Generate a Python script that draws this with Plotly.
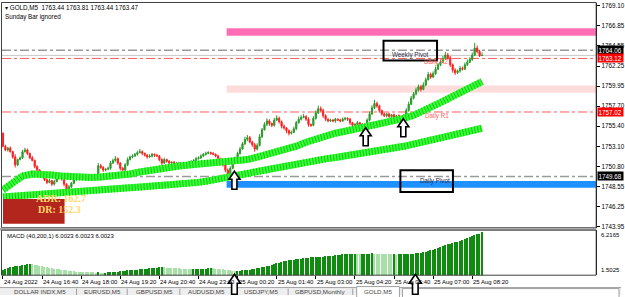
import plotly.graph_objects as go

W, H = 625, 297

# ---------------- data ----------------
first_open = 1754.60
closes = [
    1753.1, 1752.7, 1752.9, 1752.5, 1751.9, 1751.0, 1751.6, 1751.8, 1752.5, 1752.7,
    1752.3, 1751.8, 1751.5, 1750.8, 1750.4, 1749.9, 1749.6, 1749.3, 1749.0, 1749.2,
    1748.8, 1749.1, 1749.5, 1749.7, 1749.4, 1748.8, 1748.2, 1748.5, 1748.9, 1749.3,
    1749.5, 1749.7, 1749.5, 1749.6, 1749.4, 1749.6, 1749.5, 1749.7, 1749.6, 1750.9,
    1750.7, 1750.4, 1750.5, 1750.6, 1751.2, 1751.5, 1751.7, 1751.2, 1750.6, 1750.4,
    1751.0, 1751.6, 1751.9, 1752.0, 1752.2, 1752.4, 1752.5, 1752.3, 1752.1, 1751.9,
    1752.0, 1752.2, 1752.1, 1752.0, 1751.6, 1751.2, 1751.6, 1751.4, 1751.2, 1751.3,
    1751.1, 1751.2, 1751.1, 1751.0, 1751.2, 1751.1, 1751.3, 1751.4, 1751.5, 1751.7,
    1751.8, 1752.0, 1752.2, 1752.3, 1752.4, 1752.3, 1752.2, 1752.0, 1751.7, 1751.4,
    1751.0, 1750.4, 1749.9, 1750.6, 1751.3, 1751.8, 1752.3, 1752.8, 1753.4, 1753.9,
    1754.1, 1753.6, 1753.3, 1752.8, 1753.2, 1754.2, 1755.0, 1755.6, 1756.0, 1755.7,
    1755.5, 1756.1, 1756.3, 1755.9, 1755.4, 1755.2, 1754.9, 1754.6, 1754.7, 1755.1,
    1755.8, 1756.2, 1756.4, 1756.5, 1756.2, 1755.6, 1755.5, 1756.3, 1756.9, 1757.4,
    1757.2, 1756.6, 1756.2, 1756.0, 1756.1, 1756.0, 1756.2, 1756.1, 1756.0, 1756.2,
    1756.3, 1756.2, 1755.8, 1755.5, 1755.6, 1755.8, 1755.6, 1755.5, 1755.3, 1756.1,
    1756.8, 1757.5, 1758.0, 1757.7, 1757.2, 1756.8, 1756.6, 1756.8, 1756.5, 1756.7,
    1756.4, 1756.6, 1756.5, 1756.3, 1756.6, 1757.2, 1757.9, 1758.6, 1759.1, 1759.5,
    1759.9, 1759.6, 1760.1, 1760.7, 1761.3, 1761.0, 1761.4, 1761.9, 1762.4, 1762.7,
    1763.1, 1763.5, 1763.2, 1762.4, 1761.8, 1761.5, 1761.7, 1762.0, 1761.9, 1762.4,
    1762.7, 1763.0, 1763.5, 1764.3, 1763.9, 1763.44, 1763.47,
]
upper_wick = [
    0.1, 0.2, 0.15, 0.2, 0.1, 0.3, 0.1, 0.15, 0.2, 0.25,
    0.15, 0.1, 0.2, 0.1, 0.15, 0.1, 0.2, 0.1, 0.15, 0.2,
    0.1, 0.2, 0.15, 0.2, 0.1, 0.15, 0.1, 0.2, 0.15, 0.2,
    0.15, 0.2, 0.1, 0.15, 0.2, 0.1, 0.15, 0.2, 0.1, 0.3,
    0.2, 0.15, 0.1, 0.2, 0.25, 0.2, 0.3, 0.15, 0.1, 0.15,
    0.2, 0.25, 0.15, 0.2, 0.15, 0.2, 0.3, 0.15, 0.1, 0.15,
    0.2, 0.15, 0.1, 0.15, 0.1, 0.15, 0.2, 0.1, 0.15, 0.1,
    0.15, 0.1, 0.15, 0.1, 0.15, 0.1, 0.15, 0.1, 0.15, 0.2,
    0.15, 0.2, 0.15, 0.2, 0.15, 0.1, 0.15, 0.1, 0.15, 0.1,
    0.15, 0.2, 0.2, 0.25, 0.2, 0.15, 0.2, 0.25, 0.2, 0.3,
    0.3, 0.2, 0.15, 0.2, 0.25, 0.3, 0.2, 0.25, 0.3, 0.2,
    0.15, 0.25, 0.35, 0.2, 0.15, 0.2, 0.1, 0.15, 0.2, 0.25,
    0.2, 0.3, 0.25, 0.3, 0.15, 0.2, 0.1, 0.25, 0.3, 0.35,
    0.25, 0.2, 0.15, 0.1, 0.15, 0.1, 0.15, 0.1, 0.15, 0.2,
    0.15, 0.1, 0.15, 0.1, 0.15, 0.2, 0.1, 0.15, 0.1, 0.2,
    0.25, 0.3, 0.4, 0.2, 0.15, 0.1, 0.15, 0.1, 0.15, 0.1,
    0.15, 0.1, 0.15, 0.1, 0.2, 0.25, 0.3, 0.25, 0.2, 0.3,
    0.25, 0.2, 0.3, 0.25, 0.3, 0.2, 0.25, 0.3, 0.2, 0.25,
    0.3, 0.35, 0.25, 0.2, 0.15, 0.2, 0.15, 0.25, 0.2, 0.25,
    0.3, 0.25, 0.3, 0.6, 0.3, 0.2, 0.34,
]
lower_wick = [
    0.1, 0.15, 0.2, 0.1, 0.2, 0.3, 0.15, 0.1, 0.15, 0.1,
    0.2, 0.15, 0.1, 0.2, 0.15, 0.2, 0.1, 0.15, 0.2, 0.1,
    0.2, 0.15, 0.1, 0.15, 0.2, 0.25, 0.2, 0.1, 0.15, 0.1,
    0.1, 0.15, 0.2, 0.1, 0.15, 0.2, 0.1, 0.15, 0.2, 0.1,
    0.15, 0.2, 0.15, 0.1, 0.15, 0.1, 0.15, 0.2, 0.25, 0.15,
    0.1, 0.15, 0.1, 0.15, 0.1, 0.15, 0.1, 0.2, 0.15, 0.2,
    0.1, 0.15, 0.2, 0.1, 0.2, 0.25, 0.1, 0.15, 0.2, 0.1,
    0.15, 0.2, 0.1, 0.15, 0.1, 0.2, 0.1, 0.15, 0.1, 0.15,
    0.1, 0.15, 0.1, 0.15, 0.1, 0.15, 0.1, 0.15, 0.2, 0.15,
    0.2, 0.25, 0.3, 0.15, 0.1, 0.15, 0.1, 0.15, 0.1, 0.15,
    0.2, 0.15, 0.25, 0.3, 0.15, 0.1, 0.15, 0.1, 0.2, 0.25,
    0.2, 0.15, 0.1, 0.2, 0.25, 0.2, 0.3, 0.25, 0.15, 0.1,
    0.15, 0.1, 0.15, 0.1, 0.2, 0.25, 0.2, 0.1, 0.15, 0.1,
    0.15, 0.25, 0.2, 0.15, 0.1, 0.15, 0.2, 0.1, 0.15, 0.1,
    0.15, 0.2, 0.25, 0.2, 0.15, 0.1, 0.2, 0.15, 0.25, 0.1,
    0.15, 0.1, 0.15, 0.2, 0.25, 0.2, 0.15, 0.2, 0.15, 0.2,
    0.15, 0.2, 0.15, 0.2, 0.15, 0.1, 0.15, 0.1, 0.15, 0.2,
    0.15, 0.25, 0.1, 0.15, 0.1, 0.2, 0.1, 0.15, 0.1, 0.15,
    0.1, 0.15, 0.2, 0.25, 0.3, 0.25, 0.15, 0.2, 0.15, 0.1,
    0.15, 0.1, 0.15, 0.1, 0.2, 0.15, 0.0,
]

# moving averages read every 4th bar
ma_bars = list(range(0, 197, 4))
ma_fast = [
    1748.15, 1749.05, 1749.73, 1749.96, 1749.96, 1749.85, 1749.73, 1749.62, 1749.51, 1749.56,
    1749.62, 1749.68, 1749.85, 1749.96, 1750.19, 1750.41, 1750.58, 1750.75, 1750.87, 1750.98,
    1751.09, 1751.15, 1751.21, 1751.26, 1751.43, 1751.60, 1751.89, 1752.17, 1752.57, 1752.79,
    1753.13, 1753.58, 1753.98, 1754.32, 1754.60, 1754.83, 1755.06, 1755.28, 1755.51, 1755.79,
    1756.02, 1756.30, 1756.64, 1757.10, 1757.66, 1758.23, 1758.79, 1759.36, 1759.93, 1760.49,
]
ma_slow = [
    1747.35, 1747.42, 1747.48, 1747.53, 1747.58, 1747.64, 1747.71, 1747.79, 1747.87, 1747.98,
    1748.09, 1748.21, 1748.28, 1748.38, 1748.47, 1748.55, 1748.62, 1748.71, 1748.83, 1748.91,
    1749.00, 1749.17, 1749.34, 1749.59, 1749.79, 1750.02, 1750.24, 1750.47, 1750.70, 1750.92,
    1751.15, 1751.34, 1751.52, 1751.68, 1751.84, 1752.00, 1752.17, 1752.34, 1752.51, 1752.68,
    1752.85, 1753.11, 1753.36, 1753.62, 1753.88, 1754.14, 1754.40, 1754.66, 1754.92, 1755.17,
]

macd = [
    2.02, 2.14, 2.26, 2.32, 2.38, 2.44, 2.47, 2.50, 2.54, 2.57, 2.64, 2.71,
    2.66, 2.60, 2.54, 2.48, 2.42, 2.36, 2.31, 2.26, 2.21, 2.16, 2.12,
    2.09, 2.06, 2.02, 1.99, 1.96, 1.93, 1.90, 1.87, 1.85, 1.83, 1.82, 1.80, 1.79, 1.78,
    1.77, 1.76, 1.78, 1.76, 1.75, 1.76, 1.78, 1.79, 1.80, 1.82, 1.86, 1.91,
    1.94, 1.97, 2.00, 2.02, 2.04, 2.06, 2.08, 2.10, 2.12,
    2.15, 2.18, 2.20, 2.23, 2.26, 2.28, 2.31, 2.33,
    2.31, 2.29, 2.27, 2.25, 2.23, 2.21, 2.19, 2.17, 2.14, 2.12,
    2.11, 2.10, 2.11, 2.12, 2.12, 2.14, 2.16, 2.18, 2.19, 2.20,
    2.19, 2.18, 2.17, 2.15, 2.12, 2.08, 2.03, 1.99, 1.96, 1.95,
    1.96, 1.97, 1.99, 2.00, 2.02, 2.06, 2.10, 2.15, 2.20,
    2.25, 2.31, 2.36, 2.42, 2.47, 2.55, 2.63, 2.72, 2.80, 2.88,
    2.93, 2.98, 3.03, 3.08, 3.12, 3.16, 3.20, 3.23, 3.27, 3.30,
    3.32, 3.34, 3.36, 3.38, 3.40, 3.41, 3.43, 3.45, 3.47, 3.49,
    3.52, 3.56, 3.60, 3.64, 3.67, 3.69, 3.71, 3.72, 3.73,
    3.74, 3.73, 3.72, 3.72, 3.73, 3.74, 3.75, 3.76, 3.75, 3.73,
    3.71, 3.70, 3.69, 3.68, 3.67, 3.66, 3.66, 3.65, 3.66, 3.67,
    3.68, 3.70, 3.71, 3.72, 3.73, 3.76, 3.80, 3.85, 3.90, 3.95,
    4.02, 4.08, 4.15, 4.23, 4.32, 4.40, 4.50, 4.60, 4.70, 4.78,
    4.86, 4.93, 5.00, 5.10, 5.20, 5.30, 5.40, 5.50, 5.60, 5.69, 5.77, 5.85, 6.0023,
]

price_ticks = [1769.10, 1766.85, 1764.55, 1762.25, 1759.95, 1757.70, 1755.40,
               1753.10, 1750.80, 1748.55, 1746.25, 1743.95]
time_tick_bars = [0, 16, 32, 48, 64, 80, 96, 112, 128, 144, 160, 176, 192]
time_tick_labels = ["24 Aug 2022", "24 Aug 16:40", "24 Aug 18:00", "24 Aug 19:20",
                    "24 Aug 20:40", "24 Aug 23:00", "25 Aug 00:20", "25 Aug 01:40",
                    "25 Aug 03:00", "25 Aug 04:20", "25 Aug 05:40", "25 Aug 07:00",
                    "25 Aug 08:20"]

weekly_pivot = 1764.06
daily_r2 = 1763.12
daily_r1 = 1757.02
daily_pivot = 1749.68
bid = 1763.47
zone_start_bar = 91.5
zones = [(1766.55, 1765.70, "#ff6eb4"), (1760.05, 1759.20, "#ffdcdc"), (1749.15, 1748.40, "#1e90ff")]
signal_arrows = [(94.7, 1750.27), (148.4, 1755.23), (163.8, 1756.25)]
bottom_arrows = [94.7, 168.7]
tabs = ["DOLLAR INDX,M5", "EURUSD,M5", "GBPUSD,M5", "AUDUSD,M5", "USDJPY,M5", "GBPUSD,Monthly", "GOLD,M5"]

# ---------------- derived candle fields ----------------
n = len(closes)
bars = list(range(n))
opens = [first_open] + closes[:-1]
highs = [max(o, c) + u for o, c, u in zip(opens, closes, upper_wick)]
lows = [min(o, c) - l for o, c, l in zip(opens, closes, lower_wick)]
macd_colors = ["#0f8c0f" if i == 0 or macd[i] >= macd[i - 1] else "#a6e0a6" for i in range(len(macd))]

# ---------------- layout geometry ----------------
XL, XR = 2 / W, 600 / W
def py(ypix):
    return (H - ypix) / H
X_RANGE = [-0.4, 242.7]
Y_RANGE = [1743.84, 1769.44]
M_RANGE = [1.5025, 6.2165]
FONT = "Liberation Sans"

fig = go.Figure()

# MAs (textured thick lines)
for ma in (ma_slow, ma_fast):
    fig.add_trace(go.Scatter(x=ma_bars, y=ma, mode="lines",
                             line=dict(color="#33ff33", width=7), xaxis="x", yaxis="y"))
    fig.add_trace(go.Scatter(x=ma_bars, y=ma, mode="lines",
                             line=dict(color="#1cc41c", width=7, dash="1px,2px"), xaxis="x", yaxis="y"))

fig.add_trace(go.Candlestick(
    x=bars, open=opens, high=highs, low=lows, close=closes,
    increasing=dict(line=dict(color="#2a9a2a", width=1), fillcolor="#2a9a2a"),
    decreasing=dict(line=dict(color="#ff2020", width=1), fillcolor="#ff2020"),
    whiskerwidth=0, xaxis="x", yaxis="y", hoverinfo="skip"))

fig.add_trace(go.Bar(x=list(range(len(macd))), y=macd, marker=dict(color=macd_colors, line=dict(width=0)),
                     width=0.6, xaxis="x2", yaxis="y2", hoverinfo="skip"))

shapes = []
for top, bot, col in zones:
    shapes.append(dict(type="rect", xref="x", yref="y", x0=zone_start_bar, x1=X_RANGE[1],
                       y0=bot, y1=top, fillcolor=col, line=dict(width=0), layer="below"))
for lvl, col, wd in [(weekly_pivot, "#9a9a9a", 1.6), (daily_r2, "#ff5a5a", 1), (daily_r1, "#ff5a5a", 1),
                     (daily_pivot, "#9a9a9a", 1.6)]:
    shapes.append(dict(type="line", xref="paper", yref="y", x0=XL, x1=XR, y0=lvl, y1=lvl,
                       line=dict(color=col, width=wd, dash="dashdot"), layer="below"))
shapes.append(dict(type="line", xref="paper", yref="y", x0=XL, x1=XR, y0=bid, y1=bid,
                   line=dict(color="#c8c8c8", width=1), layer="below"))

# pivot boxes (data coordinates)
pivot_boxes = [(155.7, 177.6, 1765.15, 1762.90), (162.6, 184.1, 1750.38, 1747.90)]
for x0, x1, y0, y1 in pivot_boxes:
    shapes.append(dict(type="rect", xref="x", yref="y", x0=x0, x1=x1, y0=y0, y1=y1,
                       line=dict(color="black", width=2), fillcolor="rgba(0,0,0,0)"))

# frames
shapes += [
    dict(type="rect", xref="paper", yref="paper", x0=1.5 / W, x1=XR, y0=py(229), y1=py(1.5),
         line=dict(color="#404040", width=1)),
    dict(type="rect", xref="paper", yref="paper", x0=0, x1=XR, y0=py(231.5), y1=py(229),
         fillcolor="#a8a8a8", line=dict(width=0)),
    dict(type="rect", xref="paper", yref="paper", x0=1.5 / W, x1=XR, y0=py(277), y1=py(231.5),
         line=dict(color="#404040", width=1)),
    # ADR box
    dict(type="rect", xref="paper", yref="paper", x0=3 / W, x1=65 / W, y0=py(225), y1=py(200),
         fillcolor="#b3261e", line=dict(width=0)),
    # tab bar
    dict(type="rect", xref="paper", yref="paper", x0=0, x1=1, y0=0, y1=py(289.5),
         fillcolor="#eeeeee", line=dict(width=0)),
    dict(type="line", xref="paper", yref="paper", x0=0, x1=1, y0=py(289.5), y1=py(289.5),
         line=dict(color="#a0a0a0", width=1)),
    dict(type="rect", xref="paper", yref="paper", x0=359 / W, x1=402 / W, y0=-0.01, y1=py(288.5),
         fillcolor="white", line=dict(color="#a0a0a0", width=1)),
    dict(type="rect", xref="paper", yref="paper", x0=405 / W, x1=623 / W, y0=-0.01, y1=py(290.5),
         fillcolor="white", line=dict(color="#a0a0a0", width=1)),
]
for sx in [77, 128, 181, 236, 290, 355]:
    shapes.append(dict(type="line", xref="paper", yref="paper", x0=sx / W, x1=sx / W, y0=0, y1=py(290.5),
                       line=dict(color="#a0a0a0", width=1)))

# hollow up-arrows (pixel-sized, anchored on data points)
ARROW = "M0,0 L5.5,-8 L2.5,-8 L2.5,-18 L-2.5,-18 L-2.5,-8 L-5.5,-8 Z"
ARROW_BIG = "M0,0 L6,-9 L2.8,-9 L2.8,-20 L-2.8,-20 L-2.8,-9 L-6,-9 Z"
for b, p in signal_arrows:
    shapes.append(dict(type="path", xref="x", yref="y", xsizemode="pixel", ysizemode="pixel",
                       xanchor=b, yanchor=p, path=ARROW, fillcolor="white",
                       line=dict(color="black", width=1.6)))
for b in bottom_arrows:
    shapes.append(dict(type="path", xref="x", yref="paper", xsizemode="pixel", ysizemode="pixel",
                       xanchor=b, yanchor=py(276), path=ARROW_BIG, fillcolor="white",
                       line=dict(color="black", width=1.6)))

ann = []
def txt(x, y, s, size=6.3, color="black", xanchor="left", yanchor="middle", xref="paper", yref="paper", **kw):
    ann.append(dict(x=x, y=y, xref=xref, yref=yref, text=s, showarrow=False, xanchor=xanchor,
                    yanchor=yanchor, font=dict(family=FONT, size=size, color=color), **kw))

txt(3 / W, py(7), "▾ GOLD,M5  1763.44 1763.81 1763.44 1763.47")
txt(3 / W, py(16), "Sunday Bar ignored")
txt(5 / W, py(237.5), "MACD (40,200,1) 6.0023 6.0023 6.0023", size=6)

# ADR texts
ann.append(dict(x=34 / W, y=py(207.5), xref="paper", yref="paper", text="<b>ADR: 162.7</b>", showarrow=False,
                font=dict(family="Liberation Serif", size=10, color="#ffd76a")))
ann.append(dict(x=36 / W, y=py(218.5), xref="paper", yref="paper", text="<b>DR: 152.3</b>", showarrow=False,
                font=dict(family="Liberation Serif", size=10, color="#ffd76a")))

# chart labels
txt(166.6, 1763.5, "Weekly Pivot", size=6.3, color="#2a2a44", xanchor="center", xref="x", yref="y")
txt(176.6, 1749.14, "Daily Pivot", size=6.3, color="#2a2a44", xanchor="center", xref="x", yref="y")
txt(171.8, 1756.58, "Daily R1", size=6.3, color="#ff6060", xref="x", yref="y")
txt(171.5, 1762.67, "Daily R2", size=6.3, color="#ff6060", xref="x", yref="y")

# right price tags
for lvl, bg in [(weekly_pivot, "black"), (daily_r2, "#ff0000"), (daily_r1, "#ff0000"), (daily_pivot, "black")]:
    ann.append(dict(x=600.5 / W, y=lvl, xref="paper", yref="y", text=f"{lvl:.2f}", showarrow=False,
                    xanchor="left", yanchor="middle", bgcolor=bg, borderpad=0.5, width=24, align="left",
                    font=dict(family=FONT, size=6.3, color="white")))

# MACD scale labels
txt(603 / W, M_RANGE[1], "6.2165", size=6, yanchor="top", yref="y2")
txt(603 / W, M_RANGE[0], "1.5025", size=6, yanchor="bottom", yref="y2")

# time labels
for b, lab in zip(time_tick_bars, time_tick_labels):
    txt(b, py(283.5), lab, size=6, xref="x2", xshift=-1)

# tabs
tab_centers = [40, 103, 155, 208, 263, 322, 380]
for cx, lab in zip(tab_centers, tabs):
    txt(cx / W, py(293.3), lab, size=6.2, color="#444444", xanchor="center")

axis_common = dict(showgrid=False, zeroline=False, fixedrange=True)
fig.update_layout(
    width=W, height=H, margin=dict(l=0, r=0, t=0, b=0),
    paper_bgcolor="white", plot_bgcolor="white", showlegend=False, hovermode=False,
    xaxis=dict(domain=[XL, XR], range=X_RANGE, anchor="y", showticklabels=False, ticks="",
               rangeslider=dict(visible=False), **axis_common),
    yaxis=dict(domain=[py(229), py(2)], range=Y_RANGE, anchor="x", side="right",
               tickvals=price_ticks, ticktext=[f"{v:.2f}" for v in price_ticks],
               ticks="outside", ticklen=3, tickcolor="black", showline=True, linecolor="black",
               tickfont=dict(family=FONT, size=6.3, color="black"), **axis_common),
    xaxis2=dict(domain=[XL, XR], range=X_RANGE, anchor="y2", showticklabels=False,
                tickvals=time_tick_bars, ticks="outside", ticklen=3, tickcolor="black", **axis_common),
    yaxis2=dict(domain=[py(277), py(231.5)], range=M_RANGE, anchor="x2", side="right",
                showticklabels=False, ticks="", showline=True, linecolor="black", **axis_common),
    shapes=shapes, annotations=ann, bargap=0,
)

fig.write_html("out.html")
